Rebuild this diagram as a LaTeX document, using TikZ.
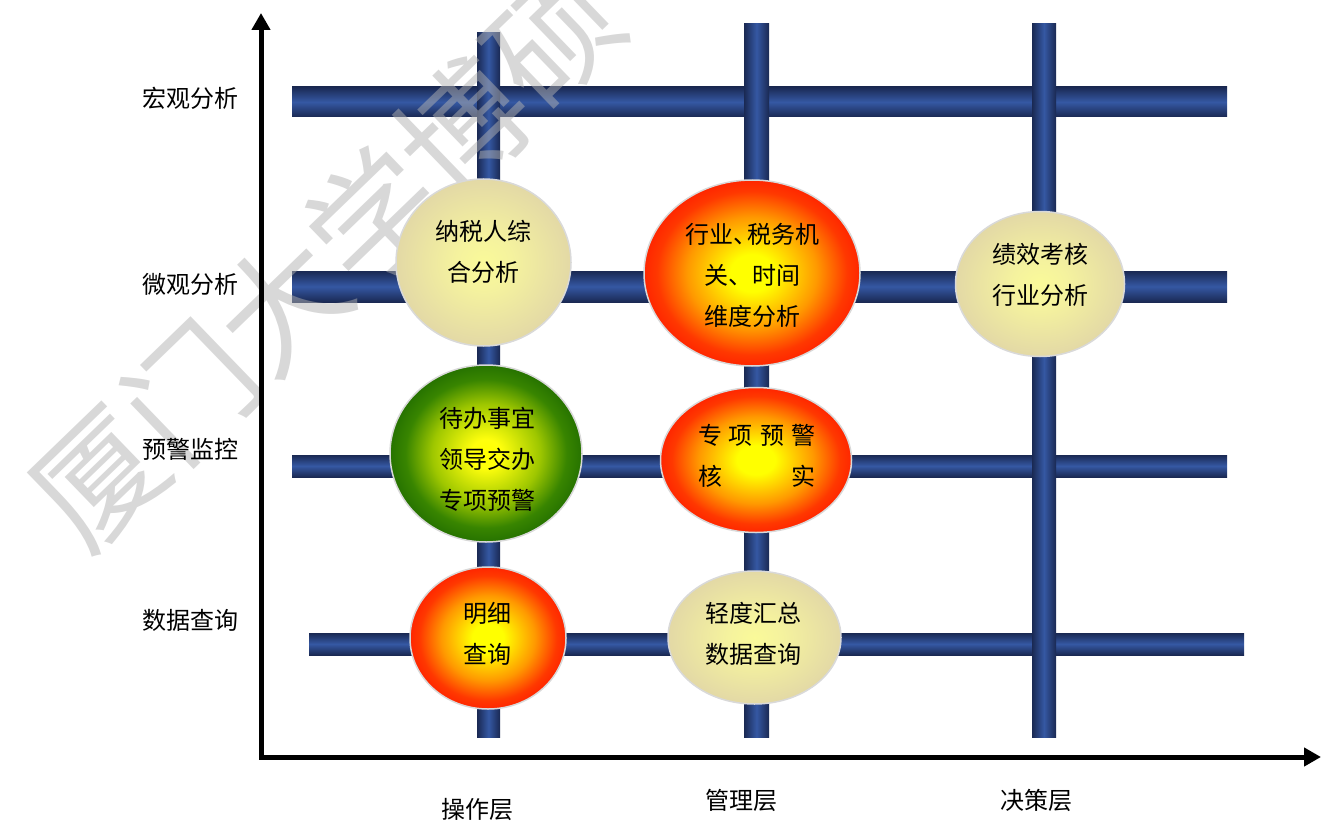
\documentclass[tikz,border=0pt]{standalone}
\usepackage{fontspec}
\newfontfamily\cjk{Noto Sans CJK SC}
\usetikzlibrary{arrows.meta,shapes.geometric}
\definecolor{barDark}{HTML}{1A2953}
\definecolor{barLight}{HTML}{3558A3}
\definecolor{ringC}{HTML}{D9D9D9}
\definecolor{wmark}{HTML}{B1B1B1}
\pgfdeclareradialshading{hotshade}{\pgfpoint{0bp}{0bp}}{rgb(0bp)=(1,1,0);rgb(5bp)=(1,1,0);rgb(15bp)=(1,0.6,0);rgb(22bp)=(1,0.22,0);rgb(25bp)=(1,0.15,0);rgb(50bp)=(1,0.15,0)}
\pgfdeclareradialshading{greenshade}{\pgfpoint{0bp}{0bp}}{rgb(0bp)=(1,1,0);rgb(4bp)=(1,1,0.05);rgb(14bp)=(0.62,0.78,0);rgb(21bp)=(0.22,0.52,0);rgb(25bp)=(0.15,0.45,0);rgb(50bp)=(0.15,0.45,0)}
\pgfdeclareradialshading{beigeshade}{\pgfpoint{0bp}{0bp}}{rgb(0bp)=(0.98,0.98,0.6);rgb(8bp)=(0.96,0.95,0.62);rgb(25bp)=(0.89,0.85,0.65);rgb(50bp)=(0.89,0.85,0.65)}
\begin{document}
\begin{tikzpicture}[x=1pt,y=-1pt,
  hbar/.style={draw=none,top color=barDark,bottom color=barDark,middle color=barLight},
  vbar/.style={draw=none,left color=barDark,right color=barDark,middle color=barLight},
  axisline/.style={line width=5pt,line join=miter,{Triangle[length=17pt,width=18pt]}-{Triangle[length=17pt,width=18pt]}},
  blob/.style={ellipse,draw=ringC,line width=1.5pt,inner sep=0pt},
  hot/.style={blob,shading=hotshade},
  grn/.style={blob,shading=greenshade},
  bge/.style={blob,shading=beigeshade},
  txt/.style={font=\cjk\fontsize{24}{41}\selectfont,align=center,inner sep=0pt},
  wmk/.style={font=\cjk\fontsize{127}{127}\selectfont,text=wmark,text opacity=0.5,inner sep=0pt}]
\useasboundingbox (0,0) rectangle (1321,821);
% horizontal bars
\shade[hbar] (292,87) rectangle (1227,117);
\shade[hbar] (292,271) rectangle (1227,302);
\shade[hbar] (292,455) rectangle (1227,477);
\shade[hbar] (309,633) rectangle (1244,655);
% vertical bars
\shade[vbar] (477,33) rectangle (500,737);
\shade[vbar] (744,24) rectangle (769,737);
\shade[vbar] (1032,24) rectangle (1056,737);
% watermark
\foreach \ch [count=\i from 0] in {厦,门,大,学,博,硕}
  \node[wmk,rotate=44] (wm\i) at ({100+\i*91},{480-\i*88}) {\ch};
% axes
\coordinate (O) at (261,757);
\coordinate (ytip) at (261,13);
\coordinate (xtip) at (1321,757);
\draw[axisline] (ytip) -- (O) -- (xtip);
% ellipses
\node[bge,minimum width=175pt,minimum height=167pt] (e1) at (483.5,262.5) {};
\node[hot,minimum width=216pt,minimum height=186pt] (e2) at (752,273) {};
\node[grn,minimum width=192pt,minimum height=177pt] (e3) at (486,453.5) {};
\node[hot,minimum width=191pt,minimum height=145pt] (e4) at (756,460) {};
\node[bge,minimum width=169pt,minimum height=145pt] (e5) at (1040,284) {};
\node[hot,minimum width=156pt,minimum height=142pt] (e6) at (488,638) {};
\node[bge,minimum width=173pt,minimum height=133pt] (e7) at (754.5,637.5) {};
% ellipse texts
\node[txt] (t1) at (483.5,251.5) {纳税人综\\合分析};
\node[txt] (t2) at (752,275) {行业、\kern-10pt税务机\\关、时间\\维度分析};
\node[txt] (t3) at (487,459) {待办事宜\\领导交办\\专项预警};
\node[txt] (t4) at (756.5,456) {\makebox[117pt][s]{专\hfill 项\hfill 预\hfill 警}\\\makebox[117pt][s]{核\hfill 实}};
\node[txt] (t5) at (1040,275) {绩效考核\\行业分析};
\node[txt] (t6) at (487.5,634) {明细\\查询};
\node[txt] (t7) at (753.5,633.5) {轻度汇总\\数据查询};
% axis labels
\node[txt] (l1) at (190,98) {宏观分析};
\node[txt] (l2) at (190,284) {微观分析};
\node[txt] (l3) at (190,449) {预警监控};
\node[txt] (l4) at (190,620) {数据查询};
\node[txt] (b1) at (477,809) {操作层};
\node[txt] (b2) at (741,800) {管理层};
\node[txt] (b3) at (1036,800) {决策层};
\end{tikzpicture}
\end{document}
